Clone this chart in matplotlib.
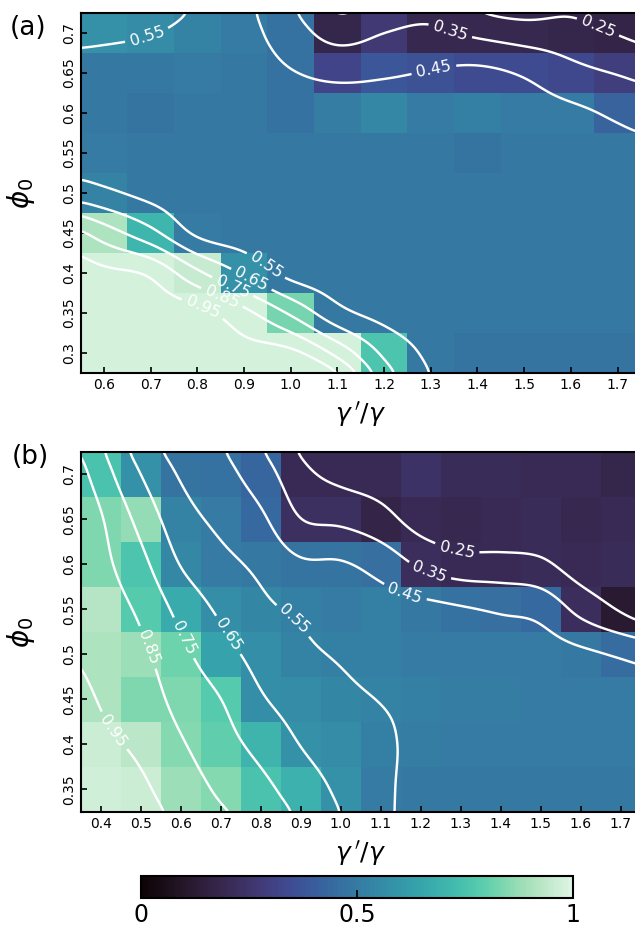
import numpy as np
import matplotlib
matplotlib.use('Agg')
from matplotlib import pyplot as plt
import seaborn as sns

# panel (a): gamma'/gamma columns, phi_0 rows (top row first)
a_ratio = [0.6, 0.7, 0.8, 0.9, 1.0, 1.1, 1.2, 1.3, 1.4, 1.5, 1.6, 1.7]
a_phi = [0.7, 0.65, 0.6, 0.55, 0.5, 0.45, 0.4, 0.35, 0.3]
a_values = [
    [0.58, 0.56, 0.53, 0.50, 0.47, 0.18, 0.27, 0.19, 0.19, 0.19, 0.18, 0.17],
    [0.49, 0.49, 0.50, 0.49, 0.47, 0.32, 0.38, 0.36, 0.34, 0.34, 0.33, 0.29],
    [0.49, 0.48, 0.49, 0.49, 0.47, 0.51, 0.55, 0.50, 0.52, 0.50, 0.50, 0.42],
    [0.50, 0.49, 0.49, 0.49, 0.49, 0.49, 0.49, 0.49, 0.48, 0.49, 0.49, 0.49],
    [0.53, 0.49, 0.49, 0.49, 0.49, 0.49, 0.49, 0.49, 0.49, 0.49, 0.49, 0.49],
    [0.91, 0.71, 0.50, 0.49, 0.49, 0.49, 0.49, 0.49, 0.49, 0.49, 0.49, 0.49],
    [0.98, 0.98, 0.95, 0.58, 0.49, 0.49, 0.49, 0.49, 0.49, 0.49, 0.49, 0.49],
    [0.98, 0.98, 0.98, 0.98, 0.83, 0.49, 0.49, 0.49, 0.49, 0.49, 0.49, 0.49],
    [0.98, 0.98, 0.98, 0.98, 0.98, 0.98, 0.76, 0.49, 0.48, 0.48, 0.48, 0.48],
]
# smoothed field behind the contour lines of (a)
a_smooth = [
    [0.58, 0.555, 0.52, 0.48, 0.40, 0.31, 0.35, 0.37, 0.33, 0.30, 0.29, 0.245],
    [0.49, 0.49, 0.49, 0.49, 0.455, 0.43, 0.44, 0.455, 0.47, 0.44, 0.38, 0.345],
    [0.49, 0.49, 0.49, 0.49, 0.49, 0.49, 0.49, 0.49, 0.49, 0.49, 0.47, 0.435],
    [0.50, 0.495, 0.49, 0.49, 0.49, 0.49, 0.49, 0.49, 0.49, 0.49, 0.49, 0.48],
    [0.57, 0.52, 0.49, 0.49, 0.49, 0.49, 0.49, 0.49, 0.49, 0.49, 0.49, 0.49],
    [0.80, 0.68, 0.53, 0.50, 0.49, 0.49, 0.49, 0.49, 0.49, 0.49, 0.49, 0.49],
    [0.97, 0.935, 0.77, 0.635, 0.52, 0.50, 0.49, 0.49, 0.49, 0.49, 0.49, 0.49],
    [0.99, 0.99, 0.98, 0.88, 0.735, 0.58, 0.52, 0.50, 0.49, 0.49, 0.49, 0.49],
    [0.99, 0.99, 0.99, 0.99, 0.98, 0.82, 0.63, 0.53, 0.49, 0.49, 0.49, 0.49],
]

# panel (b)
b_ratio = [0.4, 0.5, 0.6, 0.7, 0.8, 0.9, 1.0, 1.1, 1.2, 1.3, 1.4, 1.5, 1.6, 1.7]
b_phi = [0.7, 0.65, 0.6, 0.55, 0.5, 0.45, 0.4, 0.35]
b_values = [
    [0.75, 0.58, 0.48, 0.47, 0.43, 0.20, 0.20, 0.20, 0.24, 0.21, 0.21, 0.20, 0.20, 0.18],
    [0.84, 0.87, 0.53, 0.50, 0.44, 0.23, 0.23, 0.17, 0.20, 0.19, 0.20, 0.21, 0.19, 0.20],
    [0.84, 0.76, 0.55, 0.50, 0.49, 0.48, 0.48, 0.46, 0.22, 0.20, 0.20, 0.21, 0.20, 0.21],
    [0.92, 0.78, 0.67, 0.57, 0.54, 0.52, 0.50, 0.52, 0.49, 0.47, 0.46, 0.44, 0.22, 0.12],
    [0.91, 0.88, 0.82, 0.64, 0.57, 0.53, 0.52, 0.52, 0.50, 0.50, 0.50, 0.50, 0.49, 0.45],
    [0.91, 0.84, 0.84, 0.78, 0.57, 0.56, 0.54, 0.53, 0.52, 0.51, 0.51, 0.50, 0.50, 0.50],
    [0.96, 0.93, 0.85, 0.80, 0.70, 0.58, 0.56, 0.52, 0.51, 0.50, 0.50, 0.50, 0.50, 0.50],
    [0.97, 0.96, 0.88, 0.85, 0.75, 0.69, 0.58, 0.50, 0.49, 0.49, 0.49, 0.49, 0.49, 0.49],
]
b_smooth = [
    [0.80, 0.65, 0.54, 0.485, 0.40, 0.28, 0.22, 0.20, 0.18, 0.17, 0.17, 0.17, 0.15, 0.14],
    [0.86, 0.72, 0.59, 0.528, 0.47, 0.35, 0.33, 0.285, 0.21, 0.18, 0.18, 0.18, 0.16, 0.15],
    [0.88, 0.78, 0.645, 0.577, 0.53, 0.465, 0.46, 0.415, 0.335, 0.29, 0.285, 0.27, 0.20, 0.17],
    [0.90, 0.834, 0.72, 0.633, 0.57, 0.535, 0.50, 0.49, 0.48, 0.46, 0.44, 0.42, 0.32, 0.24],
    [0.92, 0.872, 0.775, 0.69, 0.615, 0.57, 0.54, 0.51, 0.51, 0.49, 0.49, 0.49, 0.47, 0.44],
    [0.945, 0.903, 0.817, 0.752, 0.66, 0.61, 0.574, 0.547, 0.53, 0.50, 0.50, 0.50, 0.50, 0.49],
    [0.965, 0.934, 0.86, 0.79, 0.72, 0.647, 0.603, 0.565, 0.53, 0.50, 0.50, 0.50, 0.50, 0.50],
    [0.985, 0.966, 0.90, 0.835, 0.78, 0.70, 0.632, 0.57, 0.52, 0.50, 0.50, 0.50, 0.50, 0.50],
]

levels = [0.25, 0.35, 0.45, 0.55, 0.65, 0.75, 0.85, 0.95]
cbar_ticks = [0, 0.5, 1]
cbar_labels = ['0', '0.5', '1']

# where the contour labels sit
a_label_pos = [(0.69, 0.70), (1.34, 0.70), (1.66, 0.71), (1.31, 0.644),
               (0.94, 0.404), (0.913, 0.389), (0.876, 0.383), (0.85, 0.366),
               (0.81, 0.354)]
b_label_pos = [(0.435, 0.416), (0.53, 0.51), (0.615, 0.52), (0.72, 0.522),
               (0.89, 0.542), (1.16, 0.568), (1.22, 0.59), (1.29, 0.616)]


def keys(s):
    s = np.abs(s)
    a = -0.5
    return np.where(s <= 1, (a + 2) * s**3 - (a + 3) * s**2 + 1,
                    np.where(s < 2, a * s**3 - 5 * a * s**2 + 8 * a * s - 4 * a, 0.0))


def extend(values, axis):
    # linear extrapolation by one cell on both sides
    v = np.moveaxis(values, axis, 0)
    lo = 2 * v[0] - v[1]
    hi = 2 * v[-1] - v[-2]
    v = np.concatenate([lo[None], v, hi[None]], axis=0)
    return np.moveaxis(v, 0, axis)


def resample(values, centers, fine, axis):
    values = extend(values, axis)
    n = values.shape[axis]
    u = (fine - centers[0]) / (centers[1] - centers[0]) + 1
    i = np.floor(u).astype(int)
    t = u - i
    out = 0.0
    for k in (-1, 0, 1, 2):
        idx = np.clip(i + k, 0, n - 1)
        w = keys(t - k)
        part = np.take(values, idx, axis=axis)
        out = out + (part * w if axis == 1 else part * w[:, None])
    return out


def blur(z, sigma):
    r = int(3 * sigma)
    k = np.exp(-0.5 * (np.arange(-r, r + 1) / sigma)**2)
    k /= k.sum()
    zp = np.pad(z, ((r, r), (0, 0)), mode='edge')
    z = np.apply_along_axis(lambda c: np.convolve(c, k, mode='valid'), 0, zp)
    zp = np.pad(z, ((0, 0), (r, r)), mode='edge')
    return np.apply_along_axis(lambda c: np.convolve(c, k, mode='valid'), 1, zp)


def edges(c):
    c = np.asarray(c)
    d = c[1] - c[0]
    return np.append(c - d / 2, c[-1] + d / 2)


def panel(ax, ratio, phi, values, smooth, label_pos, cmap):
    x = np.asarray(ratio)
    y = np.asarray(phi)[::-1]
    z = np.flipud(np.asarray(values))
    s = np.flipud(np.asarray(smooth))
    xe, ye = edges(x), edges(y)
    mesh = ax.pcolormesh(xe, ye, z, cmap=cmap, vmin=0, vmax=1, shading='flat')
    xf = np.linspace(xe[0], xe[-1], 281)
    yf = np.linspace(ye[0], ye[-1], 281)
    zf = resample(resample(s, y, yf, 0), x, xf, 1)
    zf = blur(zf, 3)
    cs = ax.contour(xf, yf, zf, levels=levels, colors='white', linewidths=1.75)
    ax.clabel(cs, fmt='%.2f', inline=True, fontsize=11.5, colors='white',
              manual=label_pos)
    ax.set_xlim(xe[0], xe[-1])
    ax.set_ylim(ye[0], ye[-1])
    ax.set_xticks(x)
    ax.set_xticklabels(['%.1f' % v for v in x])
    ax.set_yticks(y)
    ax.set_yticklabels(['%g' % v for v in y], rotation=90, va='center')
    ax.tick_params(direction='in', length=4, width=1.2, labelsize=10,
                   top=False, right=False)
    for sp in ax.spines.values():
        sp.set_linewidth(1.5)
    ax.set_xlabel(r"$\gamma\,'/\gamma$", fontsize=18, labelpad=6)
    ax.set_ylabel(r'$\phi_0$', fontsize=20)
    ax.yaxis.set_label_coords(-0.078, 0.5)
    return mesh


cmap = sns.color_palette('mako', as_cmap=True)
fig = plt.figure(figsize=(6.35, 9.3), dpi=100)
axA = fig.add_axes([0.127, 0.599, 0.8823, 0.3871])
axB = fig.add_axes([0.127, 0.1269, 0.8823, 0.3871])
mesh = panel(axA, a_ratio, a_phi, a_values, a_smooth, a_label_pos, cmap)
panel(axB, b_ratio, b_phi, b_values, b_smooth, b_label_pos, cmap)

fig.text(10 / 635, 1 - 28 / 930, '(a)', fontsize=19, ha='left', va='center')
fig.text(12 / 635, 1 - 457 / 930, '(b)', fontsize=19, ha='left', va='center')

cax = fig.add_axes([0.222, 0.0344, 0.680, 0.0237])
cb = fig.colorbar(mesh, cax=cax, orientation='horizontal', ticks=cbar_ticks)
cb.set_ticklabels(cbar_labels)
cb.ax.tick_params(direction='in', length=6, width=1.2, labelsize=17)
cb.outline.set_linewidth(1.5)

fig.savefig('out.png', dpi=100)
